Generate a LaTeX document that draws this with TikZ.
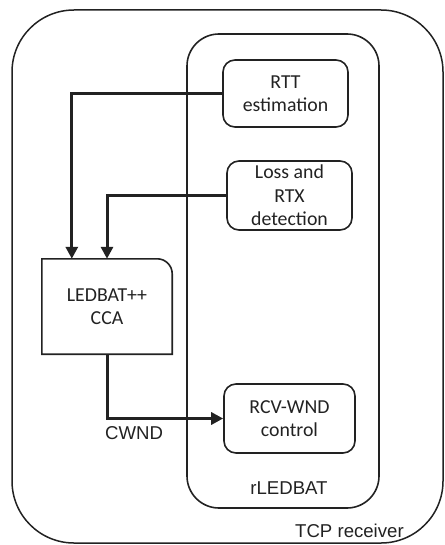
\documentclass[tikz,border=0pt]{standalone}
\usepackage{fontspec}
\setmainfont{Carlito}
\newfontfamily\labelfont{Liberation Sans}
\usetikzlibrary{arrows.meta}
\definecolor{ink}{HTML}{222222}
\begin{document}
\begin{tikzpicture}[x=1pt,y=-1pt,
  boxtext/.style={align=center,inner sep=0pt,text=ink,
    font=\fontsize{19.8}{23.5}\selectfont},
  block/.style={boxtext,draw=ink,line width=1.6pt,rounded corners=12pt},
  plain/.style={inner sep=0pt,font=\labelfont\fontsize{18.6}{22}\selectfont,text=ink},
  flow/.style={draw=ink,line width=3pt,
    -{Triangle[width=12pt,length=12pt]}},
]
\useasboundingbox (0,0) rectangle (444,545);

% enclosing TCP receiver and rLEDBAT regions
\draw[ink,line width=1.5pt,rounded corners=62pt] (12,10) rectangle (443,543);
\draw[ink,line width=1.6pt,rounded corners=32pt] (187,34) rectangle (379,508);

% functional blocks
\node[block,minimum width=125pt,minimum height=67pt] (rtt) at (285.5,93.5) {RTT\\estimation};
\node[block,minimum width=125pt,minimum height=69pt] (loss) at (289.5,195.5) {Loss and\\RTX\\detection};
\node[block,minimum width=131pt,minimum height=69pt] (rcv) at (289.5,418.5) {RCV-WND\\control};

% congestion control block, only the top-right corner is rounded
\node[boxtext,minimum width=130pt,minimum height=95pt] (led) at (107,306.5) {LEDBAT++\\CCA};
\draw[ink,line width=1.6pt] (led.south west) -- (led.north west)
  -- ([xshift=-15pt]led.north east)
  .. controls ([xshift=-6.7pt]led.north east) and ([yshift=-6.7pt]led.north east)
  .. ([yshift=-15pt]led.north east)
  -- (led.south east) -- cycle;

% labels
\node[plain,anchor=west] (cwnd) at (105,433) {CWND};
\node[plain] (rl) at (289,488) {rLEDBAT};
\node[plain,anchor=west] (tcp) at (295,531) {TCP receiver};

% data flow
\draw[flow] (rtt.west) -| ([xshift=30pt]led.north west);
\draw[flow] (loss.west) -| (led.north);
\draw[flow] (led.south) |- (rcv.west);
\end{tikzpicture}
\end{document}
